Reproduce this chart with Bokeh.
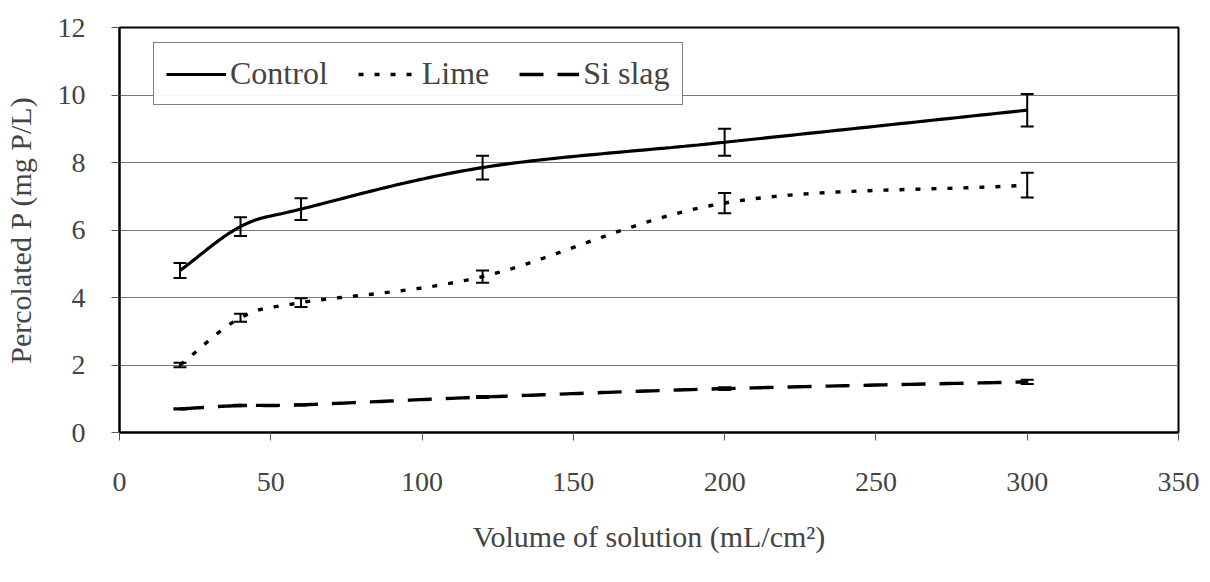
import numpy as np
from bokeh.plotting import figure
from bokeh.models import ColumnDataSource, Whisker, TeeHead, Legend, LegendItem
from bokeh.embed import file_html
from bokeh.resources import INLINE

# Percolated P at each cumulative volume of solution
volume = [20, 40, 60, 120, 200, 300]
control = [4.8, 6.1, 6.62, 7.85, 8.6, 9.55]
control_err = [0.22, 0.28, 0.32, 0.35, 0.4, 0.48]
lime = [2.0, 3.4, 3.85, 4.62, 6.8, 7.33]
lime_err = [0.07, 0.12, 0.13, 0.18, 0.3, 0.37]
slag = [0.7, 0.8, 0.82, 1.05, 1.3, 1.5]
slag_err = [0.02, 0.02, 0.02, 0.03, 0.04, 0.06]

x_ticks = [0, 50, 100, 150, 200, 250, 300, 350]
y_ticks = [0, 2, 4, 6, 8, 10, 12]

FONT = "Liberation Serif"


def smooth(xs, ys, n=40):
    """Catmull-Rom curve through the points, as a smoothed line chart draws it."""
    xs = np.asarray(xs, float)
    ys = np.asarray(ys, float)
    px = np.concatenate([[2 * xs[0] - xs[1]], xs, [2 * xs[-1] - xs[-2]]])
    py = np.concatenate([[2 * ys[0] - ys[1]], ys, [2 * ys[-1] - ys[-2]]])
    ox, oy = [], []
    for i in range(1, len(px) - 2):
        t = np.linspace(0, 1, n, endpoint=(i == len(px) - 3))
        p0, p1, p2, p3 = (np.array([px[j], py[j]]) for j in (i - 1, i, i + 1, i + 2))
        c1 = p1 + (p2 - p0) / 6.0
        c2 = p2 - (p3 - p1) / 6.0
        for tt in t:
            b = ((1 - tt) ** 3) * p1 + 3 * ((1 - tt) ** 2) * tt * c1 + 3 * (1 - tt) * tt ** 2 * c2 + tt ** 3 * p2
            ox.append(float(b[0]))
            oy.append(float(b[1]))
    return ox, oy


p = figure(width=1210, height=582, output_backend="svg", toolbar_location=None,
           x_range=(0, 350), y_range=(0, 12),
           min_border_left=113, min_border_right=32, min_border_top=27, min_border_bottom=150)

p.outline_line_color = "black"
p.outline_line_width = 2
p.xgrid.grid_line_color = None
p.ygrid.grid_line_color = "#777777"
p.ygrid.grid_line_width = 1.2

p.xaxis.ticker = x_ticks
p.yaxis.ticker = y_ticks
p.xaxis.axis_label = "Volume of solution (mL/cm²)"
p.yaxis.axis_label = "Percolated P (mg P/L)"

p.xaxis.major_label_text_font = FONT
p.yaxis.major_label_text_font = FONT
p.xaxis.axis_label_text_font = FONT
p.yaxis.axis_label_text_font = FONT
p.xaxis.major_label_text_font_size = "28px"
p.yaxis.major_label_text_font_size = "28px"
p.xaxis.axis_label_text_font_size = "30px"
p.yaxis.axis_label_text_font_size = "30px"
p.xaxis.axis_label_text_font_style = "normal"
p.yaxis.axis_label_text_font_style = "normal"

for ax in (p.xaxis[0], p.yaxis[0]):
    ax.axis_line_color = "black"
    ax.axis_line_width = 2
    ax.major_tick_line_color = "#555555"
    ax.major_tick_in = 0
    ax.major_tick_out = 8
    ax.minor_tick_line_color = None

p.xaxis.major_label_standoff = 32
p.yaxis.major_label_standoff = 26
p.xaxis.axis_label_standoff = 26
p.yaxis.axis_label_standoff = 18

cx, cy = smooth(volume, control)
lx, ly = smooth(volume, lime)
sx, sy = smooth(volume, slag)

r_control = p.line(cx, cy, line_color="black", line_width=3.2)
r_lime = p.line(lx, ly, line_color="black", line_width=3.4, line_dash="5 11")
r_slag = p.line(sx, sy, line_color="black", line_width=3.4, line_dash="24 14")

for vals, errs in ((control, control_err), (lime, lime_err), (slag, slag_err)):
    src = ColumnDataSource(dict(x=volume,
                                lo=[v - e for v, e in zip(vals, errs)],
                                hi=[v + e for v, e in zip(vals, errs)]))
    w = Whisker(base="x", lower="lo", upper="hi", source=src,
                line_color="black", line_width=2,
                upper_head=TeeHead(size=13, line_color="black", line_width=2),
                lower_head=TeeHead(size=13, line_color="black", line_width=2))
    p.add_layout(w)

legend = Legend(items=[LegendItem(label="Control", renderers=[r_control]),
                       LegendItem(label="Lime", renderers=[r_lime]),
                       LegendItem(label="Si slag", renderers=[r_slag])],
                label_text_font=FONT, label_text_font_size="32px",
                orientation="horizontal", location=(34, 327),
                glyph_width=60, glyph_height=30, label_standoff=4, spacing=30,
                padding=12, margin=0,
                border_line_color="black", border_line_width=1)
p.add_layout(legend)

open("out.html", "w").write(file_html(p, INLINE))
